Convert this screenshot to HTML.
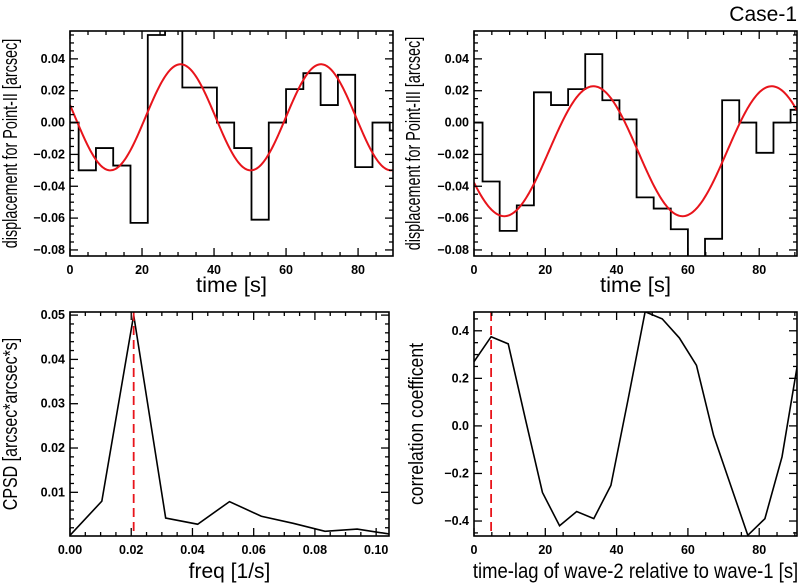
<!DOCTYPE html>
<html><head><meta charset="utf-8">
<style>
html,body{margin:0;padding:0;background:#fff;}
svg{display:block;}
text{font-family:"Liberation Sans",sans-serif;fill:#000;}
.tick{font-size:12.5px;font-weight:bold;}
.ytitle{font-size:20px;}
.xtitle{font-size:21px;}
</style></head>
<body>
<svg id="chart" width="803" height="583" viewBox="0 0 803 583" xmlns="http://www.w3.org/2000/svg">
<text x="797" y="21" text-anchor="end" font-size="21">Case-1</text>
</svg>
<script>
// ---- Data ----
const stepTimes = [0,4.8,9.6,14.4,19.2,24,28.8,33.6,38.4,43.2,48,52.8,57.6,62.4,67.2,72,76.8,81.6,86.4,91.2];
const point2Values = [0.000,-0.030,-0.016,-0.027,-0.063,0.055,0.065,0.022,0.022,0.000,-0.016,-0.061,0.000,0.021,0.031,0.011,0.030,-0.028,0.000,-0.005];
const point3Values = [0.000,-0.037,-0.068,-0.052,0.019,0.011,0.021,0.043,0.014,0.002,-0.047,-0.054,-0.067,-0.095,-0.073,0.014,0.000,-0.019,0.000,0.008];
const fit2Params = [0.0033,0.0333,39,30.7]; // offset, amplitude, period, peak time
const fit3Params = [-0.018,0.0408,50,33.5];
const freqs = [0,0.0104,0.0208,0.03125,0.0417,0.0521,0.0625,0.0729,0.0833,0.0938,0.1042];
const cpsdValues = [0.0003,0.008,0.050,0.0042,0.0028,0.0079,0.0046,0.003,0.0012,0.0017,0.0006];
const peakFreq = 0.0208;
const lags = [0,4.8,9.6,14.4,19.2,24,28.8,33.6,38.4,43.2,48,52.8,57.6,62.4,67.2,72,76.8,81.6,86.4,91.2];
const corrValues = [0.27,0.375,0.345,0.03,-0.28,-0.42,-0.36,-0.39,-0.25,0.11,0.48,0.45,0.37,0.255,-0.04,-0.25,-0.46,-0.39,-0.13,0.30];
const peakLag = 4.8;
const timeTicks = [0,20,40,60,80];
const dispTicks = [0.04,0.02,0.00,-0.02,-0.04,-0.06,-0.08];
const freqTicks = [0.00,0.02,0.04,0.06,0.08,0.10];
const cpsdTicks = [0.01,0.02,0.03,0.04,0.05];
const corrTicks = [0.4,0.2,0.0,-0.2,-0.4];

const NS="http://www.w3.org/2000/svg";
const svg=document.getElementById('chart');
function mk(tag,attrs,parent){const e=document.createElementNS(NS,tag);for(const k in attrs)e.setAttribute(k,attrs[k]);(parent||svg).appendChild(e);return e;}

function panel(o){
  const g=mk('g',{});
  
  
  const sx=v=>o.x0+(v-o.xmin)/(o.xmax-o.xmin)*(o.x1-o.x0);
  const sy=v=>o.y1-(v-o.ymin)/(o.ymax-o.ymin)*(o.y1-o.y0);
  const cid='clip-'+o.name;
  const cp=mk('clipPath',{id:cid},g); mk('rect',{x:o.x0,y:o.y0,width:o.x1-o.x0,height:o.y1-o.y0},cp);
  const plot=mk('g',{'clip-path':'url(#'+cid+')'},g);
  const tg=mk('g',{stroke:'#000','stroke-width':1.3},g);
  for(let v=o.xmin;v<=o.xmax+1e-9;v+=o.xminor){
    const X=sx(v);const maj=Math.abs(v/o.xmajor-Math.round(v/o.xmajor))<1e-6;const L=maj?8:4;
    mk('line',{x1:X,y1:o.y1,x2:X,y2:o.y1-L},tg);mk('line',{x1:X,y1:o.y0,x2:X,y2:o.y0+L},tg);
  }
  const ys=Math.ceil(o.ymin/o.yminor-1e-9);
  for(let i=ys;i*o.yminor<=o.ymax+1e-9;i++){
    const v=i*o.yminor;const Y=sy(v);const maj=Math.abs(v/o.ymajor-Math.round(v/o.ymajor))<1e-6;const L=maj?8:4;
    mk('line',{x1:o.x0,y1:Y,x2:o.x0+L,y2:Y},tg);mk('line',{x1:o.x1,y1:Y,x2:o.x1-L,y2:Y},tg);
  }
  o.xticks.forEach(v=>{const t=mk('text',{x:Math.min(sx(v),o.x1-12),y:o.y1+18,'text-anchor':'middle',class:'tick'},g);t.textContent=v.toFixed(o.xdec);
    
    });
  o.yticks.forEach(v=>{const t=mk('text',{x:o.x0-5,y:sy(v)+4,'text-anchor':'end',class:'tick'},g);t.textContent=(v<0?'\u2212'+Math.abs(v).toFixed(o.ydec):v.toFixed(o.ydec));
    
    });
  const xc=(o.x0+o.x1)/2;
  const xt=mk('text',{x:0,y:0,'text-anchor':'middle',class:'xtitle',transform:`translate(${xc},${o.xty}) scale(${o.xts},1)`},g);xt.textContent=o.xtitle;
  
  
  const cy=(o.y0+o.y1)/2;
  const yt=mk('text',{x:0,y:0,'text-anchor':'middle',class:'ytitle',transform:`translate(${o.ytx},${cy}) rotate(-90) scale(${o.yts},1)`},g);yt.textContent=o.ytitle;
  
  
  return {g,plot,sx,sy,frame:()=>{const r=mk('rect',{x:o.x0,y:o.y0,width:o.x1-o.x0,height:o.y1-o.y0,fill:'none',stroke:'#000','stroke-width':1.6},g);
    
    }};
}

function stepPath(p,xs,vals){
  let d='';
  for(let i=0;i<xs.length;i++){
    const a=i===0?xs[0]:(xs[i-1]+xs[i])/2, b=i===xs.length-1?xs[i]+ (xs[i]-xs[i-1])/2:(xs[i]+xs[i+1])/2;
    d+=(i===0?'M':'L')+p.sx(a)+','+p.sy(vals[i])+'L'+p.sx(b)+','+p.sy(vals[i]);
  }
  return mk('path',{d,fill:'none',stroke:'#000','stroke-width':1.8},p.plot);
}
function fitPath(p,par,tmax){
  let d='';
  for(let i=0;i<=300;i++){const t=tmax*i/300;const v=par[0]+par[1]*Math.cos(2*Math.PI*(t-par[3])/par[2]);d+=(i?'L':'M')+p.sx(t).toFixed(2)+','+p.sy(v).toFixed(2);}
  return mk('path',{d,fill:'none',stroke:'#e8141b','stroke-width':2},p.plot);
}
function linePath(p,xs,vals){
  const d=xs.map((x,i)=>(i?'L':'M')+p.sx(x)+','+p.sy(vals[i])).join('');
  return mk('path',{d,fill:'none',stroke:'#000','stroke-width':1.6},p.plot);
}
function vdash(p,x,o){
  return mk('line',{x1:p.sx(x),y1:o.y0,x2:p.sx(x),y2:o.y1,stroke:'#e8141b','stroke-width':1.8,'stroke-dasharray':'9,5'},p.plot);
}

// Panel 1
const o1={name:'panel-point-ii',x0:70,x1:393,y0:31,y1:256,xmin:0,xmax:89.7,ymin:-0.0838,ymax:0.0575,xmajor:20,xminor:5,ymajor:0.02,yminor:0.005,xticks:timeTicks,yticks:dispTicks,xdec:0,ydec:2,xtitle:'time [s]',xty:292,xts:1.05,ytitle:'displacement for Point-II [arcsec]',ytx:17,yts:0.72};
const p1=panel(o1);
let e=stepPath(p1,stepTimes,point2Values);


e=fitPath(p1,fit2Params,90);


p1.frame();

// Panel 2
const o2={name:'panel-point-iii',x0:474,x1:797,y0:31,y1:256,xmin:0,xmax:90.6,ymin:-0.0838,ymax:0.0575,xmajor:20,xminor:5,ymajor:0.02,yminor:0.005,xticks:timeTicks,yticks:dispTicks,xdec:0,ydec:2,xtitle:'time [s]',xty:292,xts:1.05,ytitle:'displacement for Point-III [arcsec]',ytx:420,yts:0.72};
const p2=panel(o2);
e=stepPath(p2,stepTimes,point3Values);


e=fitPath(p2,fit3Params,91);


p2.frame();

// Panel 3
const o3={name:'panel-cpsd',x0:70,x1:389,y0:312,y1:536,xmin:0,xmax:0.1042,ymin:0.00014,ymax:0.0507,xmajor:0.02,xminor:0.005,ymajor:0.01,yminor:0.002,xticks:freqTicks,yticks:cpsdTicks,xdec:2,ydec:2,xtitle:'freq [1/s]',xty:578,xts:1.0,ytitle:'CPSD [arcsec*arcsec*s]',ytx:17,yts:0.8};
const p3=panel(o3);
e=linePath(p3,freqs,cpsdValues);


e=vdash(p3,peakFreq,o3);


p3.frame();

// Panel 4
const o4={name:'panel-correlation',x0:474,x1:797,y0:312,y1:536,xmin:0,xmax:90.6,ymin:-0.463,ymax:0.479,xmajor:20,xminor:5,ymajor:0.2,yminor:0.05,xticks:timeTicks,yticks:corrTicks,xdec:0,ydec:1,xtitle:'time-lag of wave-2 relative to wave-1 [s]',xty:578,xts:0.88,ytitle:'correlation coefficent',ytx:423,yts:0.88};
const p4=panel(o4);
e=linePath(p4,lags,corrValues);


e=vdash(p4,peakLag,o4);


p4.frame();
</script>
</body></html>
